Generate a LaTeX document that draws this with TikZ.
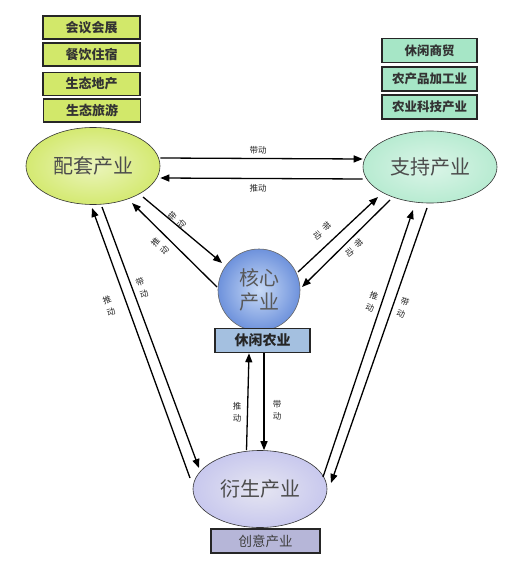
\documentclass[tikz,border=0pt]{standalone}
\usepackage{fontspec}
\setmainfont{Noto Sans CJK SC}
\usetikzlibrary{shapes.geometric,arrows.meta,calc}
\definecolor{lgreen}{HTML}{D2E86A}
\definecolor{mint}{HTML}{A6E6C6}
\definecolor{lblue}{HTML}{A4C0E0}
\definecolor{lav}{HTML}{B6B6D8}
\definecolor{coreout}{HTML}{6E92DC}
\definecolor{corein}{HTML}{C8DAF6}
\begin{document}
\begin{tikzpicture}[x=1pt,y=-1pt,
  arr/.style={line width=1.3pt,-{Triangle[length=9pt,width=7pt]}},
  lbox/.style={draw=black!85,line width=1.6pt,fill=lgreen,minimum width=97pt,minimum height=23pt,inner sep=0pt,font=\fontsize{13}{13}\selectfont\bfseries,text=black!80},
  rbox/.style={draw=black!85,line width=1.6pt,fill=mint,minimum width=95pt,minimum height=24pt,inner sep=0pt,font=\fontsize{12.5}{12.5}\selectfont\bfseries,text=black!80},
  big/.style={font=\fontsize{20}{22}\selectfont,text=black!70},
  lab/.style={font=\fontsize{8.5}{12}\selectfont,align=center,inner sep=1pt,text=black!85},
]
\useasboundingbox (0,0) rectangle (506,577);
\fill[white] (0,0) rectangle (506,577);
% left boxes
\node[lbox] (b1) at (91.5,27.5) {会议会展};
\node[lbox] (b2) at (91.5,54.5) {餐饮住宿};
\node[lbox] (b3) at (91.5,84) {生态地产};
\node[lbox] (b4) at (92,110.5) {生态旅游};
% right boxes
\node[rbox] (r1) at (429.5,50.5) {休闲商贸};
\node[rbox] (r2) at (429.5,79) {农产品加工业};
\node[rbox] (r3) at (429.5,107) {农业科技产业};
% main ellipses
\node[ellipse,draw=black!80,line width=0.6pt,inner color=lgreen!45,outer color=lgreen!95,minimum width=134pt,minimum height=77pt,big] (pt) at (93,166) {配套产业};
\node[ellipse,draw=black!80,line width=0.6pt,inner color=mint!40,outer color=mint!80,minimum width=134pt,minimum height=72pt,big] (zc) at (430,167) {支持产业};
\node[circle,draw=black!60,line width=0.6pt,inner color=corein,outer color=coreout,minimum size=82pt,inner sep=0pt,align=center,font=\fontsize{20}{24}\selectfont,text=black!65] (hx) at (259,290) {核心\\产业};
\node[draw=black!85,line width=1.6pt,fill=lblue,minimum width=95pt,minimum height=24pt,inner sep=0pt,font=\fontsize{14}{14}\selectfont\bfseries,text=black!85] (xn) at (262.5,340.5) {休闲农业};
\node[ellipse,draw=black!80,line width=0.6pt,inner color=lav!35,outer color=lav!110!black,minimum width=134pt,minimum height=77pt,big] (ys) at (260,489) {衍生产业};
\node[draw=black!85,line width=1.6pt,fill=lav,minimum width=109pt,minimum height=24pt,inner sep=0pt,font=\fontsize{13.5}{13.5}\selectfont,text=black!75] (cy) at (265.5,541) {创意产业};
% top arrows
\draw[arr] ([yshift=8pt]pt.east) -- ([yshift=8pt]zc.west);
\draw[arr] ([yshift=-12pt]zc.west) -- ([yshift=-12pt]pt.east);
\node[lab] (t1) at (258,150) {带动};
\node[lab] (t2) at (258,188) {推动};
% pt <-> core
\draw[arr] ($(pt.center)+(50,31)$) -- ($(hx.center)+(-37,-27)$);
\draw[arr] ($(hx.center)+(-42,-3)$) -- ($(pt.center)+(39,37)$);
\node[lab,rotate=49] (l1) at (177,220) {带\\动};
\node[lab,rotate=49] (l2) at (160,246) {推\\动};
% core <-> zc
\draw[arr] ($(hx.center)+(39,-18)$) -- ($(zc.center)+(-52,30)$);
\draw[arr] ($(zc.center)+(-40,33)$) -- ($(hx.center)+(43,-3)$);
\node[lab,rotate=-47] (l3) at (322,231) {带\\动};
\node[lab,rotate=-47] (l4) at (354,248) {带\\动};
% long left
\draw[arr] ($(ys.center)+(-70,-11)$) -- ($(pt.center)+(-1,42)$);
\draw[arr] ($(pt.center)+(9,41)$) -- ($(ys.center)+(-61,-21)$);
\node[lab,rotate=20] (l5) at (109,306) {推\\动};
\node[lab,rotate=20] (l6) at (142,288) {带\\动};
% long right
\draw[arr] ($(ys.center)+(63,-12)$) -- ($(zc.center)+(-17,43)$);
\draw[arr] ($(zc.center)+(-3,41)$) -- ($(ys.center)+(71,-6)$);
\node[lab,rotate=-19] (l7) at (372,302) {推\\动};
\node[lab,rotate=-19] (l8) at (403,308) {带\\动};
% vertical
\draw[arr] ([xshift=-13.5pt]ys.north) -- ([xshift=-13.5pt]xn.south);
\draw[arr] ([xshift=1.5pt]xn.south) -- ([xshift=4pt]ys.north);
\node[lab] (l9) at (237,412) {推\\动};
\node[lab] (l10) at (277,410) {带\\动};
\end{tikzpicture}
\end{document}
